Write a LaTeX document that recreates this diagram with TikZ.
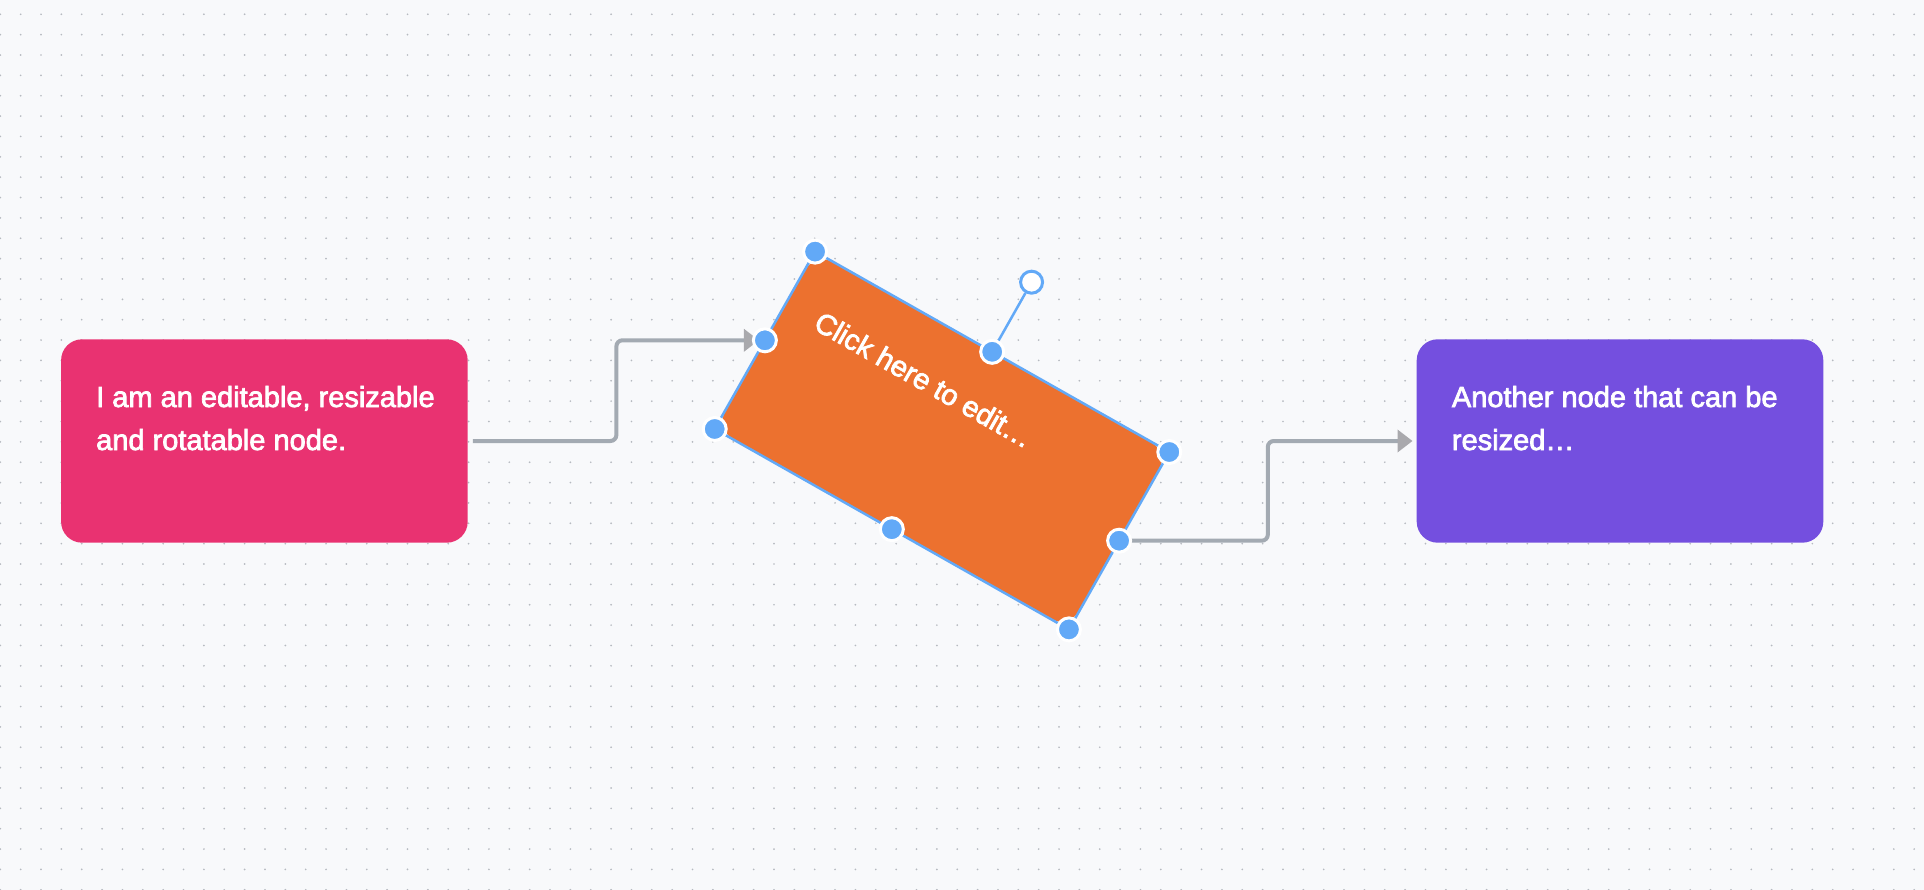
\documentclass[tikz,border=0pt]{standalone}
\usepackage{fontspec}
\setmainfont{Liberation Sans}
\newfontfamily\medfont[FakeBold=2.5]{Liberation Sans}
\usetikzlibrary{calc,arrows.meta}
\definecolor{bgc}{HTML}{F8F9FB}
\definecolor{dotc}{HTML}{B6BAC0}
\definecolor{pinkc}{HTML}{E93271}
\definecolor{orangec}{HTML}{EC712F}
\definecolor{purplec}{HTML}{744FDF}
\definecolor{connc}{HTML}{A3AAB2}
\definecolor{arrowc}{HTML}{A9A9AD}
\definecolor{bluec}{HTML}{62A9F7}
\tikzset{
 box/.style={rectangle, rounded corners=21pt, minimum width=406.6pt, minimum height=203.4pt, inner sep=0pt, draw=none},
 lbl/.style={text=white, inner sep=0pt, font=\medfont\fontsize{29}{43}\selectfont},
 conn/.style={draw=connc, line width=4pt, rounded corners=6pt, -{Triangle[length=15pt,width=22pt,color=arrowc]}, shorten <=5pt},
 handle/.style={circle, fill=bluec, draw=white, line width=3pt, minimum size=23pt, inner sep=0pt},
 rothandle/.style={circle, fill=white, draw=bluec, line width=3pt, minimum size=22pt, inner sep=0pt},
 sel/.style={draw=bluec, line width=2.5pt},
}
\begin{document}
\begin{tikzpicture}[x=1pt,y=-1pt]
\fill[bgc] (0,0) rectangle (1924,890);
\useasboundingbox (0,0) rectangle (1924,890);
\foreach \j in {0,...,43}{
  \fill[dotc] \foreach \i in {0,...,94}{(0.3+\i*20.36,14.3+\j*20.36) circle (0.95pt)};
}
% nodes
\node[box, fill=pinkc] (a) at (264.4,441) {};
\node[box, fill=orangec, rotate=-29.5] (b) at (942,440.5) {};
\node[box, fill=purplec] (c) at (1620,441) {};
% texts
\node[lbl, anchor=base west] (at) at (96,407) {\parbox[t]{380pt}{\raggedright I am an editable, resizable\\and rotatable node.}};
\node[lbl, anchor=base west] (ct) at (1451.7,407) {\parbox[t]{380pt}{\raggedright Another node that can be\\resized…}};
\begin{scope}[shift={(b.center)}, rotate=-29.5]
\node[lbl, anchor=base west, transform shape] (bt) at (-168.3,-33.7) {Click here to edit…};
\end{scope}
% connectors
\draw[conn, shorten >=6pt] (a.east) -| ($(a.east)!0.5!(b.west)$) |- (b.west);
\draw[conn, shorten >=4pt] (b.east) -| ($(b.east)!0.5!(c.west)$) |- (c.west);
% selection
\draw[sel] (b.north west) -- (b.north east) -- (b.south east) -- (b.south west) -- cycle;
\node[rothandle] (rh) at ($(b.north)!-80pt!(b.center)$) {};
\draw[bluec, line width=2.5pt] (b.north) -- (rh);
\foreach \p/\n in {north west/hnw, north/hn, north east/hne, east/he, south east/hse, south/hs, south west/hsw, west/hw}
  \node[handle] (\n) at (b.\p) {};
\end{tikzpicture}
\end{document}
